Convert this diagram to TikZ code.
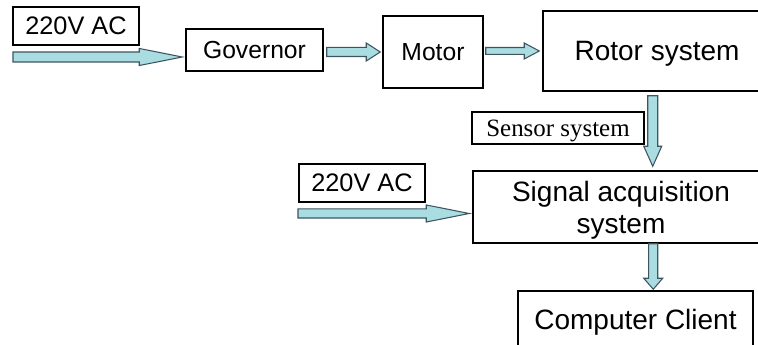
\documentclass[tikz,border=0pt]{standalone}
\usepackage{fontspec}
\setmainfont{Liberation Sans}
\newfontfamily\serifface{Liberation Serif}
\usepackage{tikz}
\usetikzlibrary{calc}
\definecolor{flowFill}{HTML}{A9DDE2}
\definecolor{flowLine}{HTML}{3E5560}

% block arrow to the right: tail, tip, body half, head half, head length
\newcommand{\rightflow}[5]{%
  \draw[flow] let \p1=(#1), \p2=(#2) in
    (\x1,\y2+#3) -- (\x2-#5,\y2+#3) -- (\x2-#5,\y2+#4) -- (\x2,\y2)
    -- (\x2-#5,\y2-#4) -- (\x2-#5,\y2-#3) -- (\x1,\y2-#3) -- cycle;}
% block arrow downwards: tail, tip, body half, head half, head length
\newcommand{\downflow}[5]{%
  \draw[flow] let \p1=(#1), \p2=(#2) in
    (\x1-#3,\y1) -- (\x1-#3,\y2+#5) -- (\x1-#4,\y2+#5) -- (\x1,\y2)
    -- (\x1+#4,\y2+#5) -- (\x1+#3,\y2+#5) -- (\x1+#3,\y1) -- cycle;}

\begin{document}
\begin{tikzpicture}[x=0.75pt,y=-0.75pt,
  box/.style={draw,line width=1.1pt,inner sep=0pt,align=center,text depth=0pt},
  smallbox/.style={box,font=\fontsize{19}{22}\selectfont},
  bigbox/.style={box,font=\fontsize{21}{24}\selectfont},
  flow/.style={fill=flowFill,draw=flowLine,line width=0.8pt,line join=miter}]
\useasboundingbox (0,0) rectangle (758,345);
\clip (0,0) rectangle (758,345);

\node[smallbox,minimum width=126*0.75pt,minimum height=38*0.75pt] (ac1) at (76,26) {220V AC};
\node[smallbox,font=\fontsize{18.5}{22}\selectfont,minimum width=137*0.75pt,minimum height=42*0.75pt] (gov) at (254.5,50) {Governor};
\node[smallbox,font=\fontsize{18.5}{22}\selectfont,minimum width=100*0.75pt,minimum height=72*0.75pt] (motor) at (433,52) {Motor};
\node[bigbox,minimum width=228*0.75pt,minimum height=80*0.75pt] (rotor) at (657,51) {Rotor system};
\node[box,font=\serifface\fontsize{18.7}{22}\selectfont,minimum width=172*0.75pt,minimum height=32*0.75pt] (sens) at (558,128) {Sensor system};
\node[bigbox,minimum width=296*0.75pt,minimum height=72*0.75pt] (signal) at (621,207) {Signal acquisition\\system};
\node[smallbox,minimum width=126*0.75pt,minimum height=38*0.75pt] (ac2) at (362,183) {220V AC};
\node[bigbox,minimum width=235*0.75pt,minimum height=56*0.75pt] (comp) at (635.5,319) {Computer Client};

\coordinate (in1) at (13,57);
\coordinate (in2) at (298,213.5);

\rightflow{in1}{$(gov.west |- in1)+(-3,0)$}{3.75pt}{6.4pt}{32.25pt}
\rightflow{$(gov.east)+(3,0)$}{$(motor.west)+(-2,0)$}{3.4pt}{6.75pt}{10.5pt}
\rightflow{$(motor.east)+(2,0)$}{$(rotor.west)+(-3,0)$}{2.6pt}{6pt}{11.25pt}
\downflow{$(rotor.south -| sens.east)+(8,4)$}{$(signal.north -| sens.east)+(8,-4)$}{3.75pt}{6.75pt}{15pt}
\rightflow{in2}{$(signal.west |- in2)+(-3,0)$}{3.4pt}{6.4pt}{32.25pt}
\downflow{$(signal.south -| sens.east)+(8.5,0)$}{$(comp.north -| sens.east)+(8.5,-1)$}{3.4pt}{7.1pt}{8.25pt}
\end{tikzpicture}
\end{document}
